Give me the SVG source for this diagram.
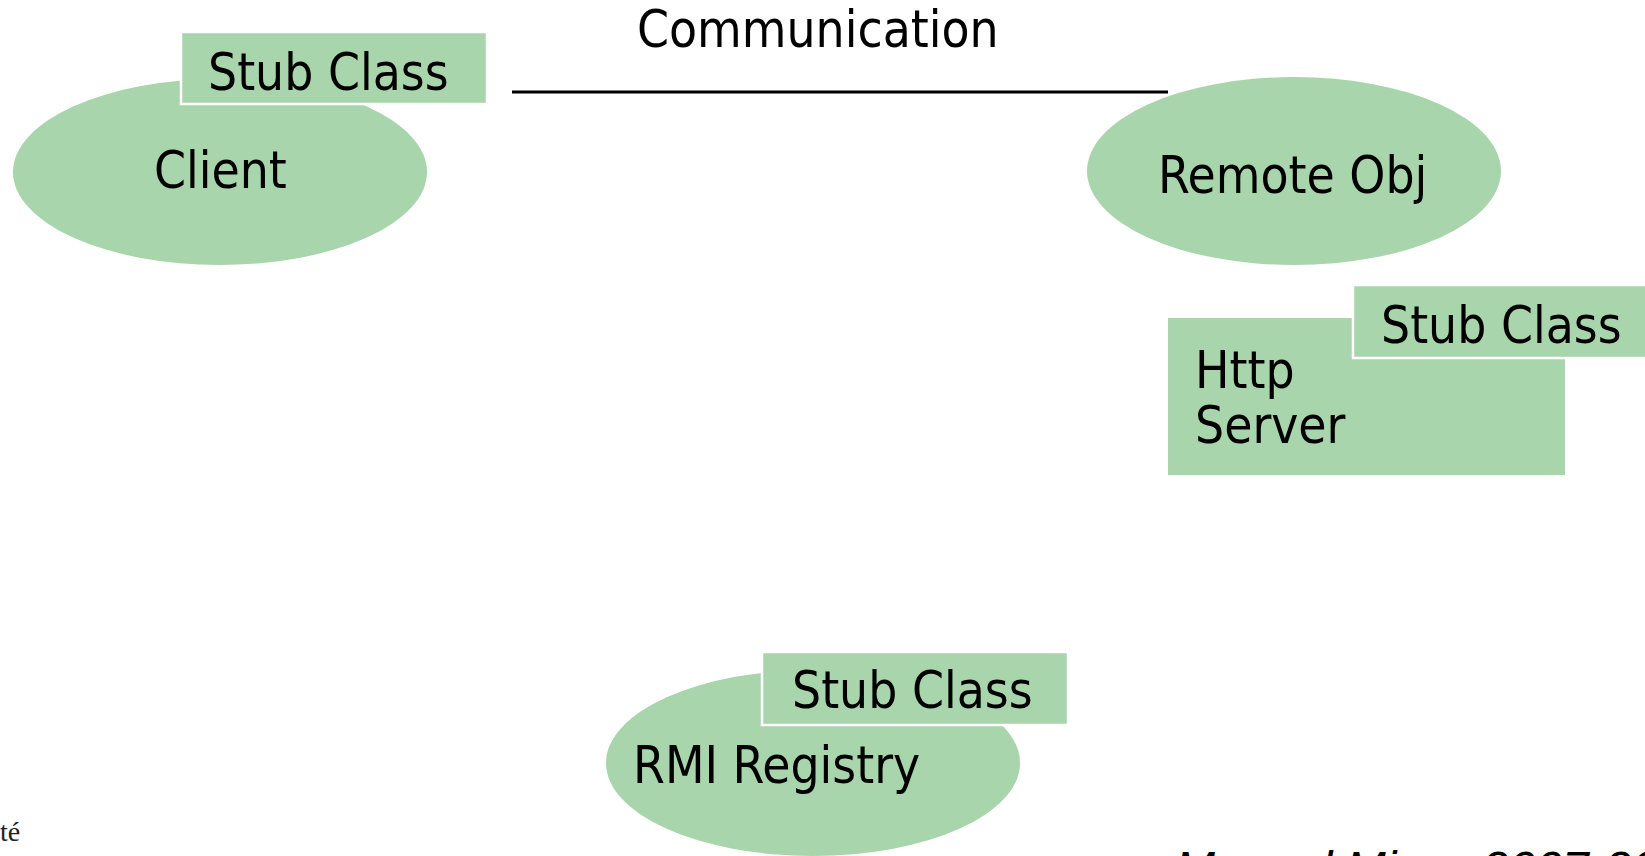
<svg xmlns="http://www.w3.org/2000/svg" width="1645" height="856" viewBox="0 0 1645 856">
<style>
.shape{fill:#a8d5ab}
.stub{fill:#a8d5ab;stroke:#ffffff;stroke-width:2.5}
.lbl{font-family:"DejaVu Sans Condensed","DejaVu Sans",sans-serif;font-stretch:condensed;font-size:51px;fill:#000}
.foot{font-family:"Liberation Sans",Arial,sans-serif;font-style:italic;font-size:48px;fill:#000}
.logo{font-family:"Liberation Serif","Times New Roman",serif;font-size:28px;fill:#222}
</style>
<rect width="1645" height="856" fill="#ffffff"/>
<g id="connectors">
<line x1="512" y1="92" x2="1168" y2="92" stroke="#000" stroke-width="3"/>
<text class="lbl" x="637" y="47">Communication</text>
</g>
<g id="client">
<ellipse class="shape" cx="220" cy="172" rx="207" ry="93"/>
<text class="lbl" x="154" y="188">Client</text>
</g>
<g id="client-stub">
<rect class="stub" x="181" y="32" width="306" height="72"/>
<text class="lbl" x="208" y="90">Stub Class</text>
</g>
<g id="remote-obj">
<ellipse class="shape" cx="1294" cy="171" rx="207" ry="94"/>
<text class="lbl" x="1158" y="193">Remote Obj</text>
</g>
<g id="http-server">
<rect class="shape" x="1168" y="318" width="397" height="157"/>
<text class="lbl" x="1195" y="388">Http</text>
<text class="lbl" x="1195" y="443">Server</text>
</g>
<g id="server-stub">
<rect class="stub" x="1353" y="285" width="306" height="73"/>
<text class="lbl" x="1381" y="343">Stub Class</text>
</g>
<g id="rmi-registry">
<ellipse class="shape" cx="813" cy="763" rx="207" ry="93"/>
<text class="lbl" x="633" y="783">RMI Registry</text>
</g>
<g id="rmi-stub">
<rect class="stub" x="762" y="652" width="306" height="73"/>
<text class="lbl" x="792" y="708">Stub Class</text>
</g>
<text class="logo" x="0" y="841">té</text>
<text class="foot" x="1175" y="885">Manuel Mira <tspan x="1482">2007-2008</tspan></text>
</svg>
